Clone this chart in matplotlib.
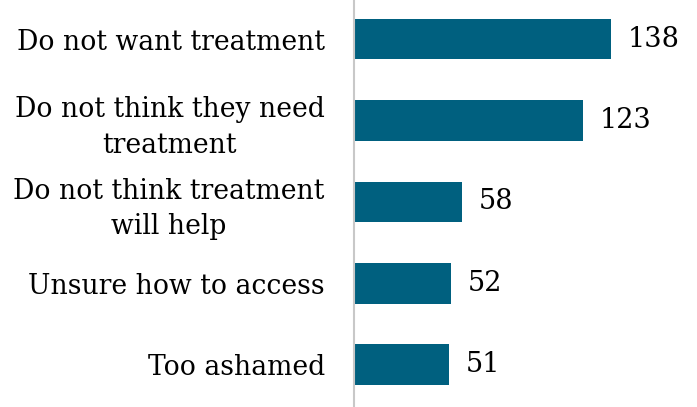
import numpy as np
import matplotlib.pyplot as plt

reasons = ["Do not want treatment",
           "Do not think they need\ntreatment",
           "Do not think treatment\nwill help",
           "Unsure how to access",
           "Too ashamed"]
counts = [138, 123, 58, 52, 51]

barColor = "#00607F"
fontName = ["DejaVu Serif"]

fig = plt.figure(figsize=(6.97, 4.07), dpi=100)
ax = fig.add_axes([354 / 697, 0, 1 - 354 / 697, 1])

y = np.arange(len(reasons))
ax.barh(y, counts, height=0.5, color=barColor)
ax.set_ylim(len(reasons) - 0.5 + 0.02, -0.5 + 0.02)
ax.set_xlim(0, 184)

# value labels to the right of each bar
for yi, c in zip(y, counts):
    ax.text(c + 9, yi, str(c), va="center", ha="left",
            fontsize=19.5, family=fontName, color="black")

ax.set_yticks(y)
ax.set_yticklabels(reasons, fontsize=19.2, family=fontName,
                   ha="right", multialignment="center", linespacing=1.4)
ax.tick_params(axis="y", length=0, pad=21)
ax.set_xticks([])

for side in ["top", "right", "bottom"]:
    ax.spines[side].set_visible(False)
ax.spines["left"].set_color("#C8C8C8")
ax.spines["left"].set_linewidth(1.5)

fig.savefig("out.png", dpi=100)
